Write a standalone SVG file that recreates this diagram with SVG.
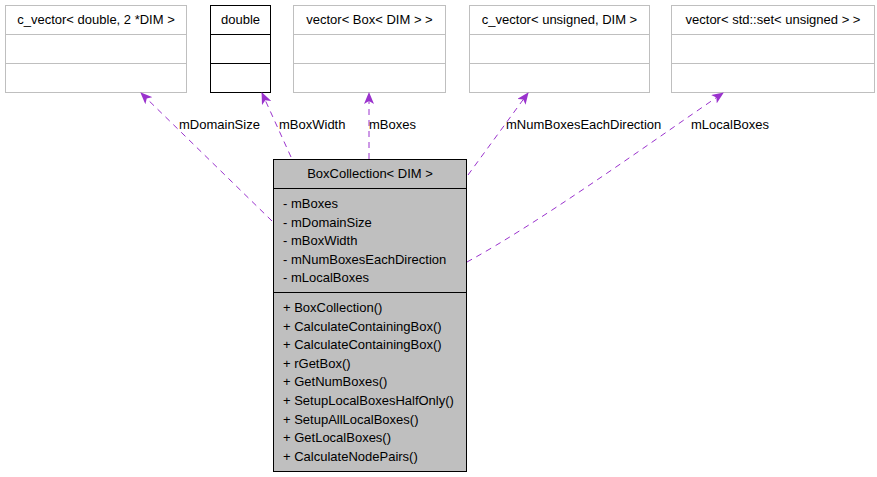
<svg xmlns="http://www.w3.org/2000/svg" width="877" height="477" viewBox="0 0 877 477">
<style>
text{font-family:"Liberation Sans",Arial,sans-serif;font-size:13px;fill:#000}
.c{text-anchor:middle}
.g rect,.g line{fill:#fff;stroke:#bfbfbf;stroke-width:1}
.b rect,.b line{fill:#fff;stroke:#000;stroke-width:1}
.m rect{fill:#bfbfbf;stroke:#000;stroke-width:1}
.m line{stroke:#000;stroke-width:1}
.e{fill:none;stroke:#9a32cd;stroke-width:1;stroke-dasharray:6,5;marker-end:url(#a)}
</style>
<defs>
<marker id="a" viewBox="0 0 12 10" markerWidth="12" markerHeight="10" refX="11" refY="5" orient="auto" markerUnits="userSpaceOnUse">
<path d="M0,0 L12,5 L0,10 L3,5 Z" fill="#9a32cd" stroke="none"/>
</marker>
</defs>
<g id="n1" class="g">
<rect x="5.5" y="5.5" width="181" height="87"/>
<line x1="5.5" y1="34.5" x2="186.5" y2="34.5"/>
<line x1="5.5" y1="63.5" x2="186.5" y2="63.5"/>
<text class="c" x="96" y="24">c_vector&lt; double, 2 *DIM &gt;</text>
</g>
<g id="n2" class="b">
<rect x="210.5" y="5.5" width="60" height="87"/>
<line x1="210.5" y1="34.5" x2="270.5" y2="34.5"/>
<line x1="210.5" y1="63.5" x2="270.5" y2="63.5"/>
<text class="c" x="240.5" y="24">double</text>
</g>
<g id="n3" class="g">
<rect x="293.5" y="5.5" width="152" height="87"/>
<line x1="293.5" y1="34.5" x2="445.5" y2="34.5"/>
<line x1="293.5" y1="63.5" x2="445.5" y2="63.5"/>
<text class="c" x="369.5" y="24">vector&lt; Box&lt; DIM &gt; &gt;</text>
</g>
<g id="n4" class="g">
<rect x="469.5" y="5.5" width="180" height="87"/>
<line x1="469.5" y1="34.5" x2="649.5" y2="34.5"/>
<line x1="469.5" y1="63.5" x2="649.5" y2="63.5"/>
<text class="c" x="559.5" y="24">c_vector&lt; unsigned, DIM &gt;</text>
</g>
<g id="n5" class="g">
<rect x="671.5" y="5.5" width="203" height="87"/>
<line x1="671.5" y1="34.5" x2="874.5" y2="34.5"/>
<line x1="671.5" y1="63.5" x2="874.5" y2="63.5"/>
<text class="c" x="773" y="24">vector&lt; std::set&lt; unsigned &gt; &gt;</text>
</g>
<g id="main" class="m">
<rect x="273.5" y="159.5" width="193" height="312"/>
<line x1="273.5" y1="188.5" x2="466.5" y2="188.5"/>
<line x1="273.5" y1="292.5" x2="466.5" y2="292.5"/>
<text class="c" x="370" y="178">BoxCollection&lt; DIM &gt;</text>
<text x="283" y="208">- mBoxes</text>
<text x="283" y="226.5">- mDomainSize</text>
<text x="283" y="245">- mBoxWidth</text>
<text x="283" y="263.5">- mNumBoxesEachDirection</text>
<text x="283" y="282">- mLocalBoxes</text>
<text x="283" y="312">+ BoxCollection()</text>
<text x="283" y="330.6">+ CalculateContainingBox()</text>
<text x="283" y="349.2">+ CalculateContainingBox()</text>
<text x="283" y="367.8">+ rGetBox()</text>
<text x="283" y="386.4">+ GetNumBoxes()</text>
<text x="283" y="405">+ SetupLocalBoxesHalfOnly()</text>
<text x="283" y="423.6">+ SetupAllLocalBoxes()</text>
<text x="283" y="442.2">+ GetLocalBoxes()</text>
<text x="283" y="460.8">+ CalculateNodePairs()</text>
</g>
<g id="edges">
<path class="e" d="M272,221 L141,93"/>
<text x="179" y="129">mDomainSize</text>
<path class="e" d="M291,157 L262,93"/>
<text x="279" y="129">mBoxWidth</text>
<path class="e" d="M369,159 L369,93"/>
<text x="369" y="129">mBoxes</text>
<path class="e" d="M468,175 L528,93"/>
<text x="506" y="129">mNumBoxesEachDirection</text>
<path class="e" d="M467,262 C540,222 640,150 723,93"/>
<text x="691" y="129">mLocalBoxes</text>
</g>
</svg>
